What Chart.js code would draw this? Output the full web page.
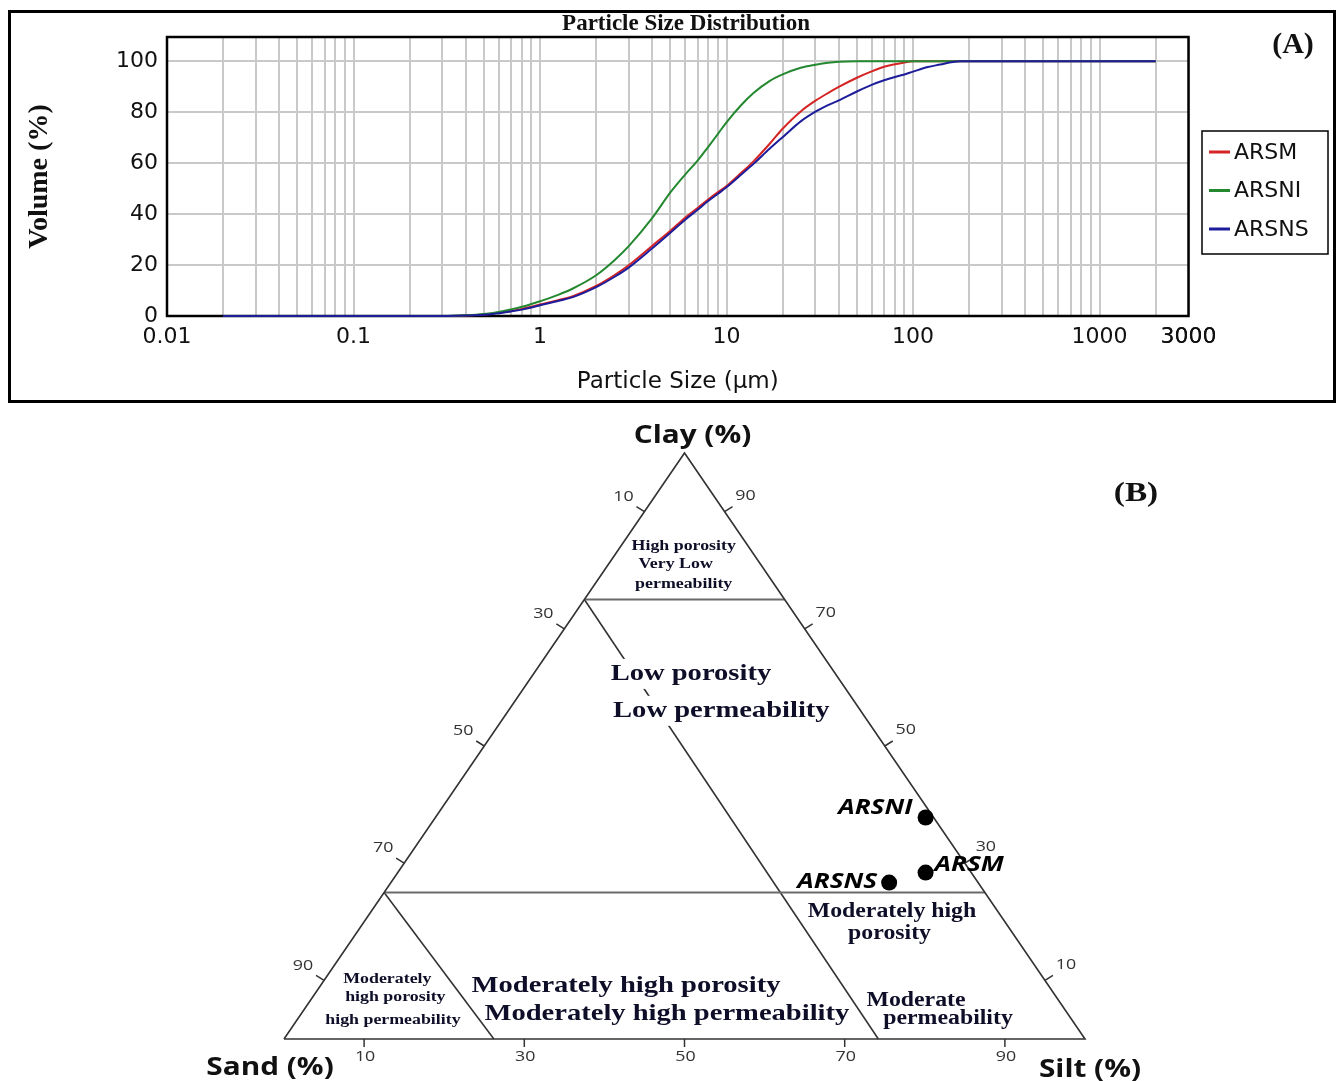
<!DOCTYPE html>
<html>
<head>
<meta charset="utf-8">
<script src="https://cdn.jsdelivr.net/npm/chart.js@4.4.1/dist/chart.umd.min.js"></script>
<style>
  html, body { margin: 0; padding: 0; background: #fff; }
  body { width: 1340px; height: 1081px; position: relative; overflow: hidden; }
  #panelA {
    position: absolute; left: 8px; top: 10px; width: 1328px; height: 393px;
    box-sizing: border-box; border: 3px solid #000;
  }
  #panelA canvas { display: block; }
  #ternary { position: absolute; left: 0; top: 405px; }
</style>
</head>
<body>
<div id="panelA"><canvas id="psd" width="1322" height="387"></canvas></div>
<canvas id="ternary" width="1340" height="676"></canvas>
<script>
/* ---------------------------------------------------------------- *
 * Panel A data: cumulative volume (%) against particle size (µm)
 * ---------------------------------------------------------------- */
const SIZES = [0.02, 0.1, 0.3, 0.4, 0.5, 0.6, 0.7, 0.8, 0.9, 1,
               1.25, 1.5, 2, 2.5, 3, 4, 5, 6, 7, 8,
               9, 10, 12, 14, 17, 20, 25, 30, 35, 40,
               50, 60, 70, 80, 90, 100, 120, 140, 160, 180,
               200, 500, 1000, 2000];

const ARSM = [0, 0, 0, 0.2, 0.6, 1.3, 2.0, 2.8, 3.6, 4.5,
              6.2, 7.8, 11.8, 16, 20, 27.6, 33.5, 38.6, 42.4, 45.8,
              48.6, 51, 56.2, 60.8, 67.5, 73.5, 80.3, 84.5, 87.5, 89.9,
              93.5, 96, 97.8, 98.8, 99.5, 100, 100, 100, 100, 100,
              100, 100, 100, 100];
const ARSNI = [0, 0, 0, 0.3, 0.8, 1.6, 2.6, 3.6, 4.7, 5.8,
               8.3, 10.8, 16, 21.8, 27.5, 38.5, 48.5, 55.5, 61, 66.5,
               71.5, 76, 82.8, 87.6, 92.2, 94.8, 97.4, 98.6, 99.4, 99.8,
               100, 100, 100, 100, 100, 100, 100, 100, 100, 100,
               100, 100, 100, 100];
const ARSNS = [0, 0, 0, 0.2, 0.5, 1.1, 1.8, 2.5, 3.3, 4.2,
               5.9, 7.4, 11.3, 15.3, 19.1, 26.6, 32.7, 37.8, 41.7, 45.2,
               48, 50.5, 55.5, 59.8, 65.6, 70.2, 76.4, 80.2, 82.8, 84.6,
               88.1, 90.7, 92.5, 93.8, 94.8, 95.9, 97.7, 98.7, 99.6, 100,
               100, 100, 100, 100];

const SERIES_NAMES = ["ARSM", "ARSNI", "ARSNS"];
const SERIES_COLORS = ["#d42424", "#23882f", "#1d1d9c"];

const X_LABEL_TICKS = [0.01, 0.1, 1, 10, 100, 1000, 3000];
const Y_TICKS = [0, 20, 40, 60, 80, 100];

/* ---------------------------------------------------------------- *
 * Panel B data: sand / silt / clay (%) of the samples
 * ---------------------------------------------------------------- */
const SAMPLE_NAMES = ["ARSNI", "ARSM", "ARSNS"];
const SAMPLE_SAND = [1.0, 5.7, 11.1];
const SAMPLE_SILT = [61.2, 65.9, 62.2];
const SAMPLE_CLAY = [37.8, 28.4, 26.7];

const EDGE_TICKS = [10, 30, 50, 70, 90];

// [sand, silt, clay] corners and zone boundaries
const OUTLINE = [[100, 0, 0], [0, 100, 0], [0, 0, 100], [100, 0, 0]];
const ZONE_LINES = [
  [[25, 0, 75], [0, 25, 75]],
  [[75, 0, 25], [0, 75, 25]],
  [[25, 0, 75], [25.8, 74.2, 0]],
  [[75, 0, 25], [73.8, 26.2, 0]],
];

/* ---------------------------------------------------------------- *
 * Helpers
 * ---------------------------------------------------------------- */
// ternary composition -> plane (x: silt + clay/2, y: clay)
function tern([sand, silt, clay]) {
  return { x: silt + clay / 2, y: clay };
}

const H_STRETCH = 1.19;   // panel B is drawn wider than tall

function stretchText(ctx, text, x, y, font, color, align, bg) {
  ctx.save();
  ctx.translate(x, y);
  ctx.scale(H_STRETCH, 1);
  ctx.font = font;
  ctx.textAlign = align || "center";
  ctx.textBaseline = "middle";
  if (bg) {
    const w = ctx.measureText(text).width;
    const h = parseFloat(font.match(/(\d+)px/)[1]);
    const x0 = align === "left" ? 0 : align === "right" ? -w : -w / 2;
    ctx.fillStyle = "#fff";
    ctx.fillRect(x0 - 3, -h / 2 - 3, w + 6, h + 6);
  }
  ctx.fillStyle = color;
  ctx.fillText(text, 0, 0);
  ctx.restore();
}

/* ---------------------------------------------------------------- *
 * Panel A: particle size distribution
 * ---------------------------------------------------------------- */
const GRID_COLOR = "#c9c9c9";
const TICK_FONT_A = { family: '"DejaVu Sans", sans-serif', size: 22 };

// log grid: 1..9 x each decade, up to the axis end
const X_GRID = [];
for (let d = 0.01; d <= 1000; d *= 10) {
  for (let n = 1; n <= 9; n++) {
    const v = +(n * d).toPrecision(3);
    if (v <= 3000) X_GRID.push(v);
  }
}
X_GRID.push(3000);

const plotFrame = {
  id: "plotFrame",
  beforeDatasetsDraw(chart) {
    const { ctx, chartArea: a } = chart;
    ctx.save();
    ctx.strokeStyle = "#000";
    ctx.lineWidth = 2.5;
    ctx.strokeRect(a.left, a.top, a.width, a.height);
    ctx.restore();
  },
};

const psdDecor = {
  id: "psdDecor",
  afterDraw(chart) {
    const { ctx } = chart;
    ctx.save();
    ctx.fillStyle = "#111";
    ctx.textBaseline = "middle";
    ctx.textAlign = "center";
    ctx.font = 'bold 23px "Liberation Serif", serif';
    ctx.fillText("Particle Size Distribution", 675, 11);
    ctx.font = 'bold 30px "Liberation Serif", serif';
    ctx.fillText("(A)", 1282, 32);

    // legend box
    ctx.strokeStyle = "#000";
    ctx.lineWidth = 1.5;
    ctx.strokeRect(1191, 118, 126, 123);
    ctx.textAlign = "left";
    ctx.font = '22px "DejaVu Sans", sans-serif';
    chart.data.datasets.forEach((ds, i) => {
      const y = 139 + i * 38.5;
      ctx.strokeStyle = ds.borderColor;
      ctx.lineWidth = 3;
      ctx.beginPath();
      ctx.moveTo(1198, y);
      ctx.lineTo(1219, y);
      ctx.stroke();
      ctx.fillStyle = "#111";
      ctx.fillText(ds.label, 1223, y + 1);
    });
    ctx.restore();
  },
};

const seriesValues = [ARSM, ARSNI, ARSNS];
const drawOrder = [2, 1, 0];   // blue ends on top, red underneath

new Chart(document.getElementById("psd"), {
  type: "line",
  data: {
    datasets: SERIES_NAMES.map((name, i) => ({
      label: name,
      data: SIZES.map((s, k) => ({ x: s, y: seriesValues[i][k] })),
      borderColor: SERIES_COLORS[i],
      backgroundColor: SERIES_COLORS[i],
      borderWidth: 2,
      pointRadius: 0,
      tension: 0.25,
      cubicInterpolationMode: "monotone",
      fill: false,
      order: drawOrder[i],
      clip: 4,
    })),
  },
  options: {
    responsive: false,
    animation: false,
    layout: { padding: { left: 0, top: 24, right: 144.5, bottom: 0 } },
    plugins: { legend: { display: false }, tooltip: { enabled: false } },
    scales: {
      x: {
        type: "logarithmic",
        min: 0.01,
        max: 3000,
        afterBuildTicks: (scale) => { scale.ticks = X_GRID.map((v) => ({ value: v })); },
        afterFit: (scale) => { scale.height = 84; },
        grid: { color: GRID_COLOR, lineWidth: 2, drawTicks: false },
        border: { display: false },
        ticks: {
          autoSkip: false,
          maxRotation: 0,
          padding: 8,
          color: "#111",
          font: TICK_FONT_A,
          callback: (v) => {
            const hit = X_LABEL_TICKS.find((t) => Math.abs(t - v) / t < 1e-6);
            return hit === undefined ? "" : String(hit);
          },
        },
        title: {
          display: true,
          text: "Particle Size (μm)",
          color: "#111",
          font: { family: '"DejaVu Sans", sans-serif', size: 23 },
          padding: { top: 0, bottom: 4.5 },
        },
      },
      y: {
        type: "linear",
        min: 0,
        max: 109.5,
        afterBuildTicks: (scale) => { scale.ticks = Y_TICKS.map((v) => ({ value: v })); },
        afterFit: (scale) => { scale.width = 156; },
        grid: { color: GRID_COLOR, lineWidth: 2, drawTicks: false },
        border: { display: false },
        ticks: { padding: 9, color: "#111", font: TICK_FONT_A },
        title: {
          display: true,
          text: "Volume (%)",
          color: "#111",
          font: { family: '"Liberation Serif", serif', size: 28, weight: "bold" },
          padding: { top: 12, bottom: 0 },
        },
      },
    },
  },
  plugins: [plotFrame, psdDecor],
});

/* ---------------------------------------------------------------- *
 * Panel B: ternary porosity / permeability diagram
 * ---------------------------------------------------------------- */
const LINE_COLOR = "#333";
const ZONE_COLOR = "#0e0e28";
const ZONE_FONT = (px) => `bold ${px}px "Liberation Serif", serif`;

// label placement in plane coordinates (layout only)
const ZONE_LABELS = [
  { text: "High porosity", at: [49.9, 84.1], size: 15 },
  { text: "Very Low", at: [48.9, 81.0], size: 15 },
  { text: "permeability", at: [49.9, 77.6], size: 15 },
  { text: "Low porosity", at: [50.8, 62.3], size: 24, bg: true },
  { text: "Low permeability", at: [54.6, 56.0], size: 24, bg: true },
  { text: "Moderately high", at: [75.9, 21.7], size: 20 },
  { text: "porosity", at: [75.6, 17.9], size: 20 },
  { text: "Moderately high porosity", at: [42.7, 9.0], size: 24 },
  { text: "Moderately high permeability", at: [47.8, 4.3], size: 24 },
  { text: "Moderate", at: [78.9, 6.5], size: 20 },
  { text: "permeability", at: [82.9, 3.4], size: 20 },
  { text: "Moderately", at: [12.9, 10.2], size: 15 },
  { text: "high porosity", at: [13.9, 7.2], size: 15 },
  { text: "high permeability", at: [13.6, 3.3], size: 15 },
];
const SAMPLE_LABEL_OFFSETS = { ARSNI: [-13, -10, "right"], ARSM: [9, -8, "left"], ARSNS: [-12, -1, "right"] };

const ternaryDecor = {
  id: "ternaryDecor",
  afterDatasetsDraw(chart) {
    const { ctx, scales: { x, y } } = chart;
    const toPx = (p) => [x.getPixelForValue(p.x), y.getPixelForValue(p.y)];
    const tickFont = '15px "Open Sans", sans-serif';

    ctx.save();
    ctx.strokeStyle = LINE_COLOR;
    ctx.lineWidth = 1.5;
    EDGE_TICKS.forEach((v) => {
      const marks = [
        { at: tern([v, 0, 100 - v]), d: [-8, -5], off: [-21, -15] },  // sand, left edge
        { at: tern([0, 100 - v, v]), d: [8, -5], off: [21, -16] },    // clay, right edge
        { at: tern([100 - v, v, 0]), d: [0, 8], off: [1, 18] },       // silt, base
      ];
      marks.forEach((m) => {
        const [px, py] = toPx(m.at);
        ctx.beginPath();
        ctx.moveTo(px, py);
        ctx.lineTo(px + m.d[0], py + m.d[1]);
        ctx.stroke();
        stretchText(ctx, String(v), px + m.off[0], py + m.off[1], tickFont, "#333", "center");
      });
    });
    ctx.restore();

    ZONE_LABELS.forEach((l) => {
      const [px, py] = toPx({ x: l.at[0], y: l.at[1] });
      stretchText(ctx, l.text, px, py, ZONE_FONT(l.size), ZONE_COLOR, "center", l.bg);
    });

    // sample names
    const sampleFont = 'italic bold 22px "Open Sans", sans-serif';
    SAMPLE_NAMES.forEach((name, i) => {
      const [px, py] = toPx(tern([SAMPLE_SAND[i], SAMPLE_SILT[i], SAMPLE_CLAY[i]]));
      const [dx, dy, align] = SAMPLE_LABEL_OFFSETS[name];
      stretchText(ctx, name, px + dx, py + dy, sampleFont, "#000", align);
    });

    // corner titles and panel tag
    const axisFont = 'bold 25px "Open Sans", sans-serif';
    const apex = toPx(tern([0, 0, 100]));
    const sandC = toPx(tern([100, 0, 0]));
    const siltC = toPx(tern([0, 100, 0]));
    stretchText(ctx, "Clay (%)", apex[0] + 8, apex[1] - 17, axisFont, "#111", "center");
    stretchText(ctx, "Sand (%)", sandC[0] - 14, sandC[1] + 29, axisFont, "#111", "center");
    stretchText(ctx, "Silt (%)", siltC[0] + 5, siltC[1] + 31, axisFont, "#111", "center");
    stretchText(ctx, "(B)", 1136, 89, 'bold 28px "Liberation Serif", serif', "#111", "center");
  },
};

const lineSet = (pts, width, color) => ({
  type: "scatter",
  data: pts.map(tern),
  showLine: true,
  borderColor: color,
  borderWidth: width,
  pointRadius: 0,
  fill: false,
  clip: false,
  order: 1,
});

new Chart(document.getElementById("ternary"), {
  type: "scatter",
  data: {
    datasets: [
      {
        label: "samples",
        data: SAMPLE_NAMES.map((_, i) => tern([SAMPLE_SAND[i], SAMPLE_SILT[i], SAMPLE_CLAY[i]])),
        pointRadius: 8,
        pointBackgroundColor: "#000",
        pointBorderWidth: 0,
        order: 0,
        clip: false,
      },
      lineSet(OUTLINE, 1.6, LINE_COLOR),
      ...ZONE_LINES.map((seg, i) => lineSet(seg, i < 2 ? 2 : 1.6, i < 2 ? "#6a6a6a" : LINE_COLOR)),
    ],
  },
  options: {
    responsive: false,
    animation: false,
    layout: { padding: { left: 284, right: 255, top: 48, bottom: 42 } },
    plugins: { legend: { display: false }, tooltip: { enabled: false } },
    scales: {
      x: { type: "linear", min: 0, max: 100, display: false },
      y: { type: "linear", min: 0, max: 100, display: false },
    },
  },
  plugins: [ternaryDecor],
});
</script>
</body>
</html>
